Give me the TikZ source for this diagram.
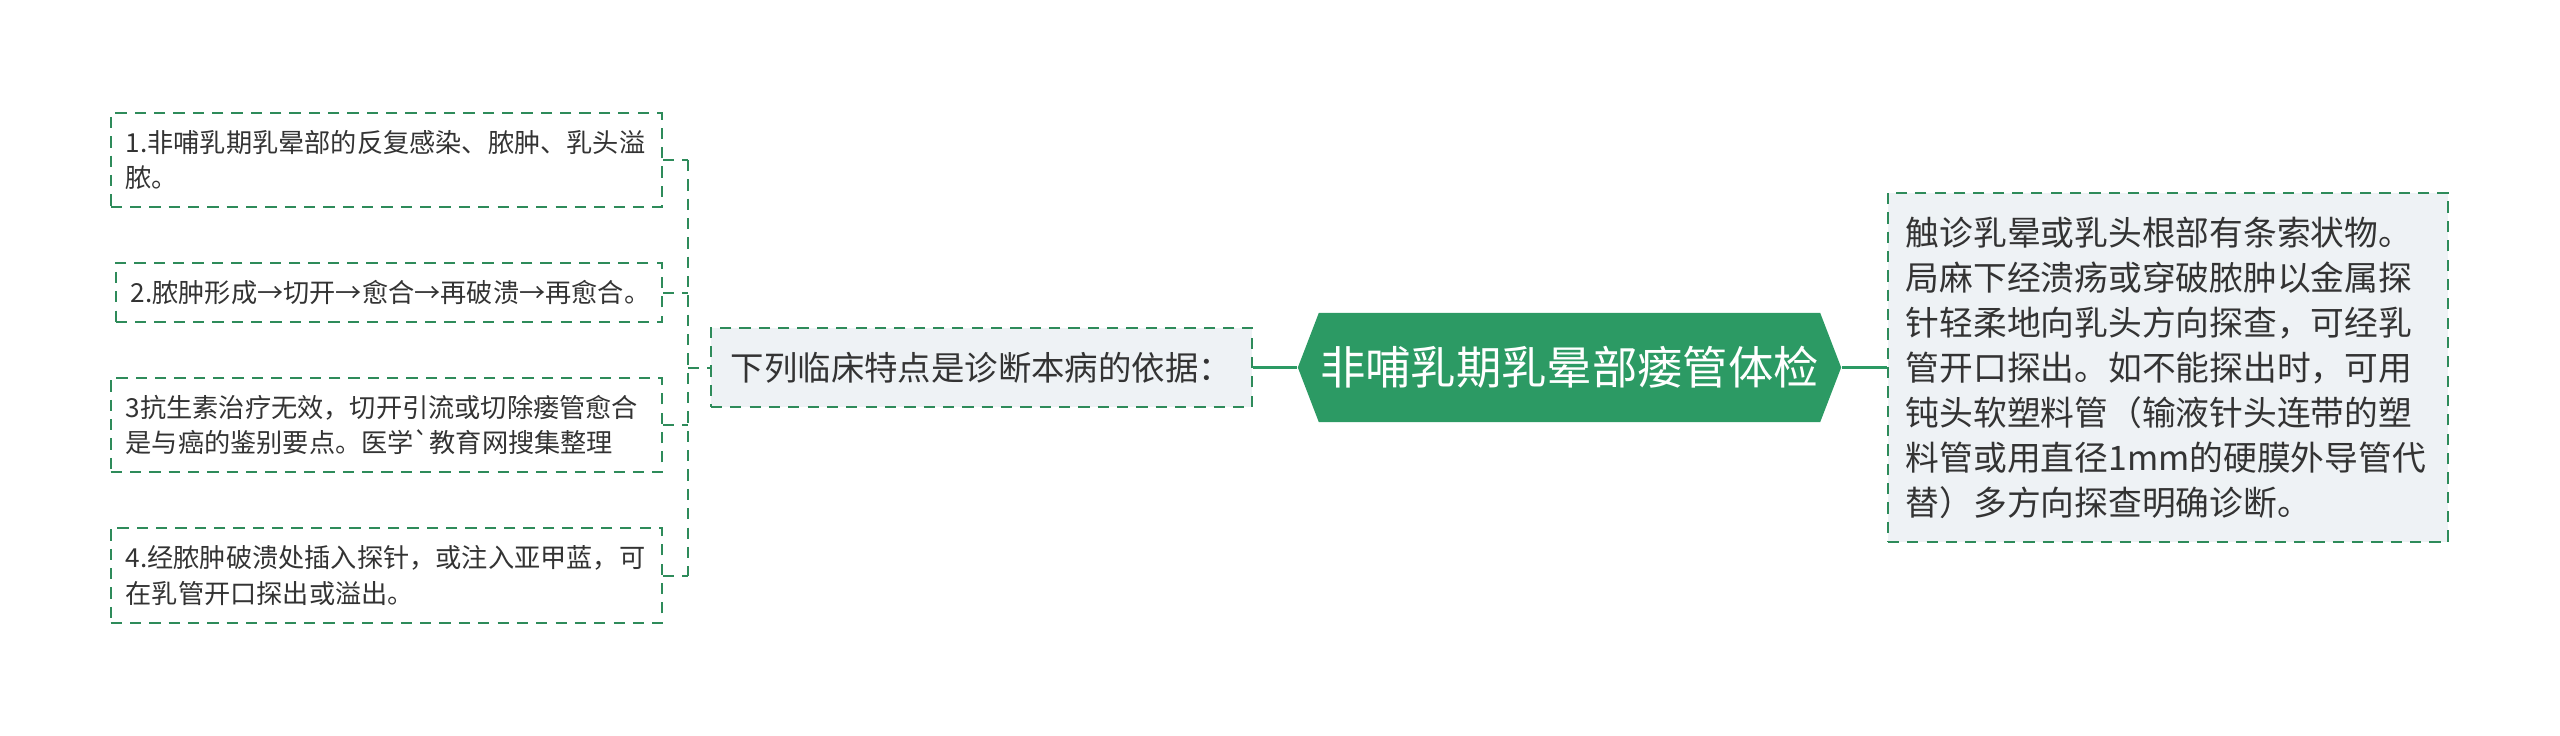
\documentclass[tikz,border=0pt]{standalone}
\usepackage{fontspec}
\setmainfont{Noto Sans CJK SC}
\usetikzlibrary{shapes.symbols}
\definecolor{rootgreen}{HTML}{2C9A64}
\definecolor{edgegreen}{HTML}{2E8B5A}
\definecolor{boxgray}{HTML}{EEF2F5}
\definecolor{inkgray}{HTML}{333333}

\begin{document}
\begin{tikzpicture}[x=0.01cm, y=-0.01cm,
	leafstyle/.style={draw=edgegreen, dash pattern=on 3.2pt off 2.3pt, line width=0.57pt, text=inkgray, font=\fontsize{7.45}{10}\selectfont, align=left, inner xsep=0.15cm, inner ysep=0pt, anchor=east},
	basisstyle/.style={leafstyle, fill=boxgray, font=\fontsize{9.5}{12}\selectfont, inner xsep=0.2cm, text width=5.01cm, minimum height=0.79cm, anchor=center},
	notestyle/.style={leafstyle, fill=boxgray, font=\fontsize{9.6}{12.8}\selectfont, inner xsep=0.18cm, text width=5.24cm, minimum height=3.49cm, anchor=center},
	rootstyle/.style={signal, signal to=west and east, signal pointer angle=138, fill=rootgreen, text=white, minimum width=5.43cm, minimum height=1.09cm, inner sep=0pt, font=\fontsize{12.9}{15}\selectfont},
	linkstyle/.style={draw=edgegreen, dash pattern=on 3.2pt off 2.3pt, line width=0.57pt},
	rootlink/.style={draw=rootgreen, line width=0.85pt}]
	\useasboundingbox (0,0) rectangle (2560,735);

	\node [rootstyle] (root) at (1569.5,367.5) {非哺乳期乳晕部瘘管体检};
	\node [basisstyle] (basis) at (981.5,367.5) {下列临床特点是诊断本病的依据：};
	\node [notestyle] (note) at (2168,367.5) {触诊乳晕或乳头根部有条索状物。\\局麻下经溃疡或穿破脓肿以金属探\\针轻柔地向乳头方向探查，可经乳\\管开口探出。如不能探出时，可用\\钝头软塑料管（输液针头连带的塑\\料管或用直径1mm的硬膜外导管代\\替）多方向探查明确诊断。};

	\foreach \t/\y/\w/\h [count=\i] in {{1.非哺乳期乳晕部的反复感染、脓肿、乳头溢\\脓。}/160/5.21/0.93,
		{2.脓肿形成→切开→愈合→再破溃→再愈合。}/292.5/5.16/0.59,
		{3抗生素治疗无效，切开引流或切除瘘管愈合\\是与癌的鉴别要点。医学\textasciigrave 教育网搜集整理}/425/5.21/0.94,
		{4.经脓肿破溃处插入探针，或注入亚甲蓝，可\\在乳管开口探出或溢出。}/575.5/5.21/0.95}
		\node [leafstyle, text width=\w cm, minimum height=\h cm] (leaf\i) at (663,\y) {\t};

	\coordinate (fork) at (688,367.5);
	\foreach \i in {1,...,4}
		\draw [linkstyle] (leaf\i.east) -- (leaf\i.east -| fork);
	\draw [linkstyle] (leaf1.east -| fork) -- (leaf4.east -| fork);
	\draw [linkstyle] (fork) -- (basis.west);
	\draw [rootlink] (basis.east) -- (root.west);
	\draw [rootlink] (root.east) -- (note.west);
\end{tikzpicture}
\end{document}
